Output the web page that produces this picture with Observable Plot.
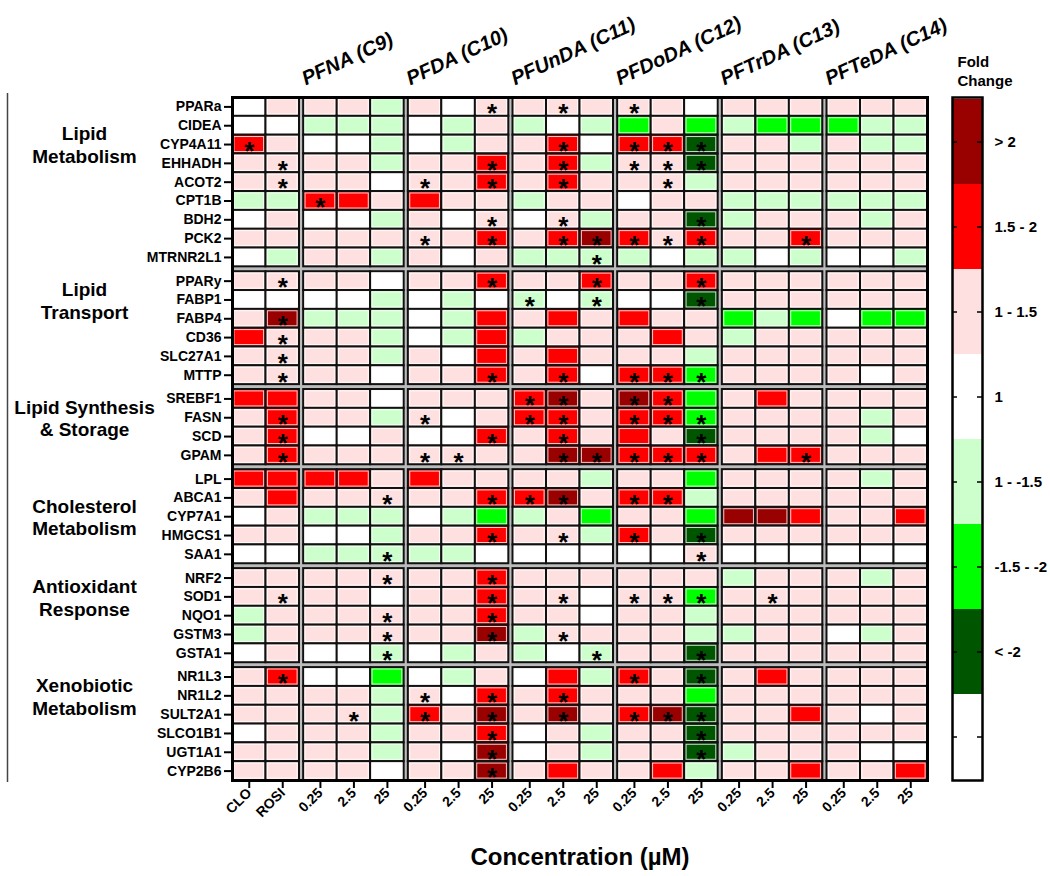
<!DOCTYPE html>
<html>
<head>
<meta charset="utf-8">
<script src="https://cdn.jsdelivr.net/npm/d3@7"></script>
<script src="https://cdn.jsdelivr.net/npm/@observablehq/plot@0.6"></script>
<style>
  body { margin: 0; background: #fff; }
  #chart { position: relative; width: 1050px; height: 876px; }
  #chart > svg { position: absolute; top: 0; }
</style>
</head>
<body>
<div id="chart"></div>
<script>
// ---------------- DATA ----------------
const categoryLines = [["Lipid", "Metabolism"], ["Lipid", "Transport"], ["Lipid Synthesis", "& Storage"],
  ["Cholesterol", "Metabolism"], ["Antioxidant", "Response"], ["Xenobiotic", "Metabolism"]];
const categoryGenes = [
  ["PPARa", "CIDEA", "CYP4A11", "EHHADH", "ACOT2", "CPT1B", "BDH2", "PCK2", "MTRNR2L1"],
  ["PPARy", "FABP1", "FABP4", "CD36", "SLC27A1", "MTTP"],
  ["SREBF1", "FASN", "SCD", "GPAM"],
  ["LPL", "ABCA1", "CYP7A1", "HMGCS1", "SAA1"],
  ["NRF2", "SOD1", "NQO1", "GSTM3", "GSTA1"],
  ["NR1L3", "NR1L2", "SULT2A1", "SLCO1B1", "UGT1A1", "CYP2B6"]
];
const categoryLabelGene = ["CYP4A11", "FABP1", "FASN", "CYP7A1", "SOD1", "NR1L2"];

const treatments = ["Controls", "PFNA (C9)", "PFDA (C10)", "PFUnDA (C11)", "PFDoDA (C12)", "PFTrDA (C13)", "PFTeDA (C14)"];
const treatmentDoses = [["CLO", "ROSI"], ["0.25", "2.5", "25"], ["0.25", "2.5", "25"], ["0.25", "2.5", "25"],
  ["0.25", "2.5", "25"], ["0.25", "2.5", "25"], ["0.25", "2.5", "25"]];

// fold-change class per gene (rows, in gene order) and column
// 3: >2, 2: 1.5-2, 1: 1-1.5, 0: 1, -1: 1 - -1.5, -2: -1.5 - -2, -3: < -2
const foldClass = [
  [0,1, 1,1,-1, 1,0,1, 1,1,1, 1,1,0, 1,1,1, 1,1,1],          // PPARa
  [0,0, -1,-1,-1, 0,-1,1, -1,0,-1, -2,1,-2, -1,-2,-2, -2,-1,-1], // CIDEA
  [2,1, 0,0,-1, 0,-1,1, 1,2,0, 2,2,-3, 1,1,-1, 1,-1,-1],     // CYP4A11
  [1,1, 1,1,-1, 1,1,2, 1,2,-1, 1,1,-3, 1,1,1, 1,1,1],        // EHHADH
  [1,1, 1,1,0, 1,1,2, 1,2,1, 1,1,-1, 1,1,1, 1,1,1],          // ACOT2
  [-1,-1, 2,2,1, 2,1,1, -1,1,1, 0,1,1, -1,-1,-1, -1,-1,-1],  // CPT1B
  [0,1, 0,0,-1, 1,0,1, 0,1,-1, 1,1,-3, -1,1,1, 1,-1,1],      // BDH2
  [1,1, 1,1,1, 1,1,2, 1,2,3, 2,1,2, 1,1,2, 1,1,1],           // PCK2
  [0,-1, 1,1,-1, 1,0,1, -1,-1,-1, -1,0,-1, -1,0,-1, 0,0,-1], // MTRNR2L1
  [1,1, 1,1,0, 1,1,2, 1,1,2, 1,1,2, 1,1,1, 1,1,1],           // PPARy
  [0,0, 0,0,-1, 0,-1,0, -1,0,-1, 0,0,-3, 1,1,1, 1,1,1],      // FABP1
  [1,3, -1,-1,-1, 0,-1,2, 1,2,1, 2,1,1, -2,-1,-2, 0,-2,-2],  // FABP4
  [2,1, 1,1,-1, 0,-1,2, -1,1,1, 1,2,1, -1,1,1, 1,1,1],       // CD36
  [1,1, 1,1,-1, 1,0,2, 1,2,1, 1,1,-1, 1,1,1, 1,1,1],         // SLC27A1
  [1,1, 1,1,0, 1,1,2, 1,2,0, 2,2,-2, 1,1,1, 1,0,1],          // MTTP
  [2,2, 1,1,0, 1,1,1, 2,3,1, 3,2,-2, 1,2,1, 1,1,1],          // SREBF1
  [1,2, 1,1,-1, 1,0,1, 2,2,1, 2,2,-2, 1,1,1, 1,-1,1],        // FASN
  [1,2, 0,0,1, 0,0,2, 1,2,1, 2,1,-3, 1,1,1, 1,-1,0],         // SCD
  [1,2, 1,1,1, 1,1,1, 1,3,3, 2,2,2, 1,2,2, 1,1,1],           // GPAM
  [2,2, 2,2,1, 2,1,1, 1,1,-1, 1,1,-2, 1,1,1, 1,-1,1],        // LPL
  [1,2, 1,1,1, 1,1,2, 2,3,1, 2,2,-1, 1,1,1, 1,1,1],          // ABCA1
  [0,1, -1,-1,-1, 0,-1,-2, -1,1,-2, 1,1,-2, 3,3,2, 1,1,2],   // CYP7A1
  [1,1, 0,0,-1, 1,1,2, 1,1,-1, 2,1,-3, 1,1,1, 1,1,1],        // HMGCS1
  [0,0, -1,-1,-1, -1,-1,0, 0,0,0, 0,0,1, 0,0,0, 0,0,0],      // SAA1
  [1,1, 1,1,1, 1,1,2, 1,1,1, 1,1,1, -1,1,1, 1,-1,1],         // NRF2
  [1,1, 1,1,0, 1,1,2, 1,1,0, 1,1,-2, 1,1,1, 1,1,1],          // SOD1
  [-1,1, 1,1,1, 1,1,2, 1,1,0, 1,1,-1, 1,1,1, 1,1,1],         // NQO1
  [-1,1, 1,1,1, 1,1,3, -1,1,1, 1,1,-1, -1,1,1, 0,-1,1],      // GSTM3
  [0,1, 0,0,-1, 0,-1,1, -1,0,-1, 1,1,-3, 1,1,1, 1,1,1],      // GSTA1
  [1,2, 0,0,-2, 0,-1,1, 0,2,-1, 2,1,-3, 1,2,1, 1,1,1],       // NR1L3
  [1,1, 1,1,-1, 1,0,2, 1,2,1, 1,1,-2, 1,1,1, 1,1,1],         // NR1L2
  [1,1, 1,1,-1, 2,1,3, 1,3,1, 2,3,-3, 1,1,2, 1,0,1],         // SULT2A1
  [0,1, 1,1,-1, 1,1,2, 0,1,-1, 1,1,-3, 1,1,1, 1,1,1],        // SLCO1B1
  [1,1, 1,1,-1, 1,0,3, 0,1,-1, 1,1,-3, -1,1,1, 1,0,0],       // UGT1A1
  [1,1, 1,1,0, 1,1,3, 1,2,1, 1,2,-1, 1,1,2, 1,1,2]           // CYP2B6
];

// column indices (0-19) marked with * (significant), per gene row
const significant = [
  [7,9,11], [], [0,9,11,12,13], [1,7,9,11,12,13], [1,5,7,9,12], [2], [7,9,13],
  [5,7,9,10,11,12,13,16], [10],
  [1,7,10,13], [8,10,13], [1], [1], [1], [1,7,9,11,12,13],
  [8,9,11,12], [1,5,8,9,11,12,13], [1,7,9,13], [1,5,6,9,10,11,12,13,16],
  [], [4,7,8,9,11,12], [], [7,9,11,13], [4,13],
  [4,7], [1,7,9,11,12,13,15], [4,7], [4,7,9], [4,10,13],
  [1,11,13], [5,7,9], [3,5,7,9,11,12,13], [7,13], [7,13], [7]
];

const legendClasses = [3, 2, 1, 0, -1, -2, -3, null];
const legendLabels = ["> 2", "1.5 - 2", "1 - 1.5", "1", "1 - -1.5", "-1.5 - -2", "< -2", ""];
const classColors = ["#990000", "#ff0000", "#ffe0e0", "#ffffff", "#ccffcc", "#00ff00", "#005500"];

// ---------------- LAYOUT (structure only) ----------------
const GAP_X = 0.125;   // gap between treatment groups, in cell widths
const GAP_Y = 0.26;    // gap between gene categories, in cell heights
const FONT = "'Liberation Sans', Arial, Helvetica, sans-serif";

const cols = [];
treatments.forEach((t, g) => treatmentDoses[g].forEach(dose => {
  cols.push({group: g, treatment: t, dose, pos: cols.length + g * GAP_X});
}));
const rows = [];
categoryGenes.forEach((genes, k) => genes.forEach(gene => {
  rows.push({cat: k, gene, pos: rows.length + k * GAP_Y});
}));
const xMax = cols.length + (treatments.length - 1) * GAP_X;
const yMax = rows.length + (categoryGenes.length - 1) * GAP_Y;

const cells = [];
rows.forEach((r, i) => cols.forEach((c, j) => {
  cells.push({x: c.pos, y: r.pos, cls: foldClass[i][j], star: significant[i].includes(j), gene: r.gene});
}));
const starCells = cells.filter(d => d.star);

const rowPosByGene = new Map(rows.map(r => [r.gene, r.pos]));
const geneByCenter = new Map(rows.map(r => [r.pos + 0.5, r.gene]));
const doseByCenter = new Map(cols.map(c => [c.pos + 0.5, c.dose]));

const headers = treatments.slice(1).map((t, i) => ({
  name: t, left: cols.find(c => c.group === i + 1).pos
}));
const catLabels = categoryLines.map((lines, k) => ({
  text: lines.join("\n"), y: rowPosByGene.get(categoryLabelGene[k]) + 0.5
}));

const colorScale = {type: "ordinal", domain: [3, 2, 1, 0, -1, -2, -3], range: classColors};

// ---------------- MAIN HEATMAP ----------------
const main = Plot.plot({
  width: 1050, height: 876,
  marginLeft: 232, marginRight: 123, marginTop: 97, marginBottom: 96,
  style: {fontFamily: FONT, fontWeight: "bold", color: "#000", background: "transparent"},
  x: {domain: [0, xMax]},
  y: {domain: [0, yMax], reverse: true},
  color: colorScale,
  marks: [
    Plot.frame({fill: "#bcbcbc"}),
    Plot.rect(cells, {x1: "x", x2: d => d.x + 1, y1: "y", y2: d => d.y + 1, fill: "cls",
      stroke: "#111", strokeWidth: 2}),
    Plot.rect(cells, {x1: "x", x2: d => d.x + 1, y1: "y", y2: d => d.y + 1, inset: 1.9,
      fill: "none", stroke: "#fff", strokeWidth: 1, strokeOpacity: 0.8}),
    Plot.text(starCells, {x: d => d.x + 0.5, y: d => d.y + 0.5, text: () => "*",
      fontSize: 26, fontWeight: "bold", dy: 7, fill: "#000"}),
    Plot.frame({stroke: "#000", strokeWidth: 3}),
    Plot.axisY(rows.map(r => r.pos + 0.5), {anchor: "left", tickFormat: v => geneByCenter.get(v),
      tickSize: 8, tickPadding: 3, strokeWidth: 2, fontSize: 14, fontWeight: "bold", label: null}),
    Plot.axisX(cols.map(c => c.pos + 0.5), {anchor: "bottom", tickFormat: v => doseByCenter.get(v),
      tickRotate: -45, tickSize: 8, tickPadding: 2, strokeWidth: 2, fontSize: 14, fontWeight: "bold", label: null}),
    Plot.text(headers, {x: "left", text: "name", frameAnchor: "top", rotate: -25,
      textAnchor: "start", lineAnchor: "bottom", dx: 2, dy: -12,
      fontSize: 20, fontStyle: "italic", fontWeight: "bold"}),
    Plot.text(catLabels, {y: "y", text: "text", frameAnchor: "left", dx: -148,
      textAnchor: "middle", fontSize: 19, lineHeight: 1.2, fontWeight: "bold"}),
    Plot.ruleX([0], {dx: -225, stroke: "#444", strokeWidth: 1.5, insetTop: -4, insetBottom: -2}),
    Plot.text(["Concentration (µM)"], {frameAnchor: "bottom", dy: 84, fontSize: 24, fontWeight: "bold"})
  ]
});

// ---------------- LEGEND ----------------
const legendItems = legendClasses.map((cls, i) => ({key: i, cls, label: legendLabels[i]}));
const legend = Plot.plot({
  width: 120, height: 876,
  marginLeft: 22, marginRight: 68, marginTop: 97, marginBottom: 96,
  style: {fontFamily: FONT, fontWeight: "bold", color: "#000", background: "transparent"},
  y: {type: "band", domain: legendItems.map(d => d.key), padding: 0, axis: null},
  color: colorScale,
  marks: [
    Plot.cell(legendItems.filter(d => d.cls !== null), {y: "key", fill: "cls"}),
    Plot.tickY(legendItems, {y: "key", insetRight: 25, strokeWidth: 1.5}),
    Plot.tickY(legendItems, {y: "key", insetLeft: 25, strokeWidth: 1.5}),
    Plot.frame({stroke: "#000", strokeWidth: 2.5}),
    Plot.text(legendItems, {y: "key", text: "label", frameAnchor: "right", textAnchor: "start",
      dx: 12, fontSize: 15, fontWeight: "bold"}),
    Plot.text(["Fold\nChange"], {frameAnchor: "top-left", textAnchor: "start", lineAnchor: "top",
      dx: 5, dy: -44, fontSize: 15, lineHeight: 1.25, fontWeight: "bold"})
  ]
});

const chart = document.getElementById("chart");
main.style.left = "0px";
legend.style.left = "930px";
chart.appendChild(main);
chart.appendChild(legend);
</script>
</body>
</html>
